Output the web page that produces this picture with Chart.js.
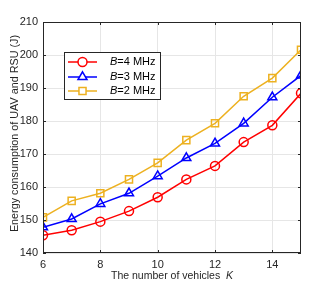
<!DOCTYPE html>
<html>
<head>
<meta charset="utf-8">
<script src="https://cdn.jsdelivr.net/npm/chart.js@4.4.0/dist/chart.umd.min.js"></script>
<style>
  html, body { margin: 0; padding: 0; background: #fff; }
  #wrap { width: 332px; height: 285px; }
</style>
</head>
<body>
<div id="wrap"><canvas id="chart" width="332" height="285"></canvas></div>
<script>
// Values
const vehicles = [6, 7, 8, 9, 10, 11, 12, 13, 14, 15];
const energyB4 = [145.4, 146.9, 149.5, 152.7, 156.9, 162.3, 166.4, 173.6, 178.7, 188.4];
const energyB3 = [147.8, 150.3, 154.9, 158.1, 163.3, 168.8, 173.2, 179.3, 187.2, 193.8];
const energyB2 = [150.8, 155.8, 158.1, 162.3, 167.3, 174.2, 179.3, 187.5, 193.0, 201.6];
const xTicks = [6, 8, 10, 12, 14];
const yTicks = [140, 150, 160, 170, 180, 190, 200, 210];
const legendLabels = ['4 MHz', '3 MHz', '2 MHz'];

const FONT = 'Liberation Sans, Arial, sans-serif';
const colors = ['#ff0000', '#0000ff', '#edb120'];
const styles = ['circle', 'triangle', 'rect'];
const radii = [4.5, 5.2, 5];

function makeSet(label, data, i) {
    return {
        label: label,
        data: vehicles.map((k, j) => ({ x: k, y: data[j] })),
        borderColor: colors[i],
        backgroundColor: 'rgba(0,0,0,0)',
        borderWidth: 1.5,
        pointStyle: styles[i],
        pointRadius: radii[i],
        pointBorderWidth: 1.5,
        pointBorderColor: colors[i],
        pointBackgroundColor: 'rgba(0,0,0,0)',
        tension: 0
    };
}

// Draws the frame, inward ticks, axis titles and the boxed legend
const decor = {
    id: 'decor',
    afterDraw(chart) {
        const ctx = chart.ctx;
        const a = chart.chartArea;
        const xs = chart.scales.x, ys = chart.scales.y;
        ctx.save();
        ctx.strokeStyle = '#262626';
        ctx.lineWidth = 1;
        ctx.strokeRect(a.left + 0.5, a.top + 0.5, a.right - a.left - 1, a.bottom - a.top - 1);
        ctx.beginPath();
        xTicks.forEach(t => {
            const px = Math.round(xs.getPixelForValue(t)) + 0.5;
            ctx.moveTo(px, a.bottom); ctx.lineTo(px, a.bottom - 3);
            ctx.moveTo(px, a.top); ctx.lineTo(px, a.top + 3);
        });
        yTicks.forEach(t => {
            const py = Math.round(ys.getPixelForValue(t)) + 0.5;
            ctx.moveTo(a.left, py); ctx.lineTo(a.left + 3, py);
            ctx.moveTo(a.right, py); ctx.lineTo(a.right - 3, py);
        });
        ctx.stroke();

        // axis titles
        ctx.fillStyle = '#262626';
        ctx.textBaseline = 'middle';
        const xt = 'The number of vehicles  ';
        ctx.font = '10.5px ' + FONT;
        const w1 = ctx.measureText(xt).width;
        ctx.font = 'italic 10.5px ' + FONT;
        const w2 = ctx.measureText('K').width;
        let sx = (a.left + a.right) / 2 - (w1 + w2) / 2;
        ctx.textAlign = 'left';
        ctx.font = '10.5px ' + FONT;
        ctx.fillText(xt, sx, 276);
        ctx.font = 'italic 10.5px ' + FONT;
        ctx.fillText('K', sx + w1, 276);

        ctx.save();
        ctx.translate(15, (a.top + a.bottom) / 2 - 4);
        ctx.rotate(-Math.PI / 2);
        ctx.textAlign = 'center';
        ctx.font = '10.8px ' + FONT;
        ctx.fillText('Energy consumption of UAV and RSU (J)', 0, 0);
        ctx.restore();

        // legend
        const lx = 64, ly = 52, lw = 96, lh = 47;
        ctx.fillStyle = '#fff';
        ctx.fillRect(lx, ly, lw, lh);
        ctx.strokeStyle = '#262626';
        ctx.lineWidth = 1;
        ctx.strokeRect(lx + 0.5, ly + 0.5, lw, lh);
        const rows = [62, 77, 91];
        legendLabels.forEach((lab, i) => {
            const y = rows[i];
            ctx.strokeStyle = colors[i];
            ctx.lineWidth = 1.5;
            ctx.beginPath();
            ctx.moveTo(68, y); ctx.lineTo(97, y);
            ctx.stroke();
            ctx.fillStyle = '#fff';
            Chart.helpers.drawPoint(ctx, {
                pointStyle: styles[i], radius: radii[i], borderWidth: 1.5, rotation: 0
            }, 82.5, y);
            ctx.fillStyle = '#000';
            ctx.textAlign = 'left';
            ctx.font = 'italic 11px ' + FONT;
            ctx.fillText('B', 110, y);
            const bw = ctx.measureText('B').width;
            ctx.font = '11px ' + FONT;
            ctx.fillText('=' + lab, 110 + bw, y);
        });
        ctx.restore();
    }
};

new Chart(document.getElementById('chart'), {
    type: 'line',
    data: {
        datasets: [
            makeSet('B=4 MHz', energyB4, 0),
            makeSet('B=3 MHz', energyB3, 1),
            makeSet('B=2 MHz', energyB2, 2)
        ]
    },
    options: {
        responsive: false,
        animation: false,
        layout: { padding: { top: 22, right: 31, left: 0, bottom: 0 } },
        plugins: { legend: { display: false }, tooltip: { enabled: false } },
        scales: {
            x: {
                type: 'linear',
                min: 6, max: 15,
                afterFit: s => { s.height = 32; },
                afterBuildTicks: s => { s.ticks = xTicks.map(v => ({ value: v })); },
                grid: { color: '#e6e6e6', drawTicks: false },
                border: { display: false },
                ticks: { color: '#262626', font: { family: FONT, size: 11 }, padding: 5 }
            },
            y: {
                min: 140, max: 210,
                afterFit: s => { s.width = 43; },
                afterBuildTicks: s => { s.ticks = yTicks.map(v => ({ value: v })); },
                grid: { color: '#e6e6e6', drawTicks: false },
                border: { display: false },
                ticks: { color: '#262626', font: { family: FONT, size: 11 }, padding: 5 }
            }
        }
    },
    plugins: [decor]
});
</script>
</body>
</html>
